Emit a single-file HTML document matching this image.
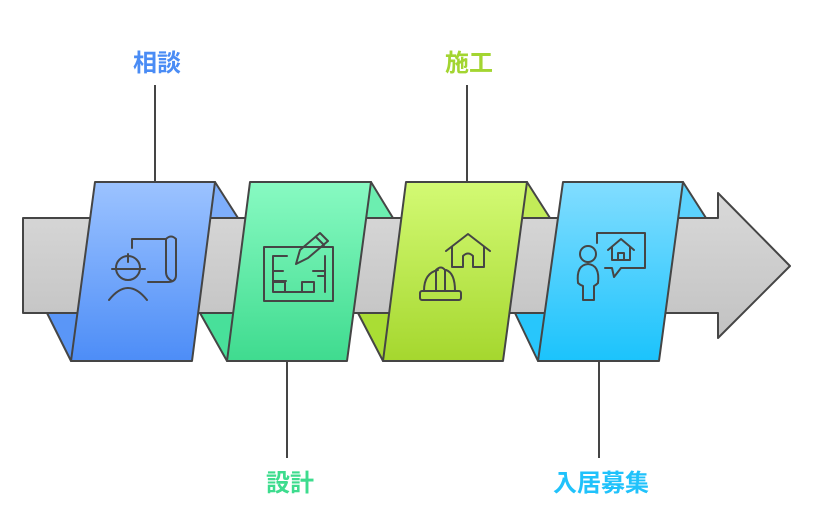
<!DOCTYPE html>
<html><head><meta charset="utf-8"><style>
html,body{margin:0;padding:0;background:#fff;width:827px;height:529px;overflow:hidden}
text{font-family:"Liberation Sans","Noto Sans CJK JP",sans-serif;font-weight:bold;font-size:24px}
</style></head><body>
<svg width="827" height="529" viewBox="0 0 827 529" xmlns="http://www.w3.org/2000/svg">
<defs>
<linearGradient id="gr" x1="0" y1="0" x2="0" y2="1"><stop offset="0" stop-color="#d9d9d9"/><stop offset="1" stop-color="#c2c2c2"/></linearGradient>
<linearGradient id="b" x1="0" y1="0" x2="0" y2="1"><stop offset="0" stop-color="#9cc3ff"/><stop offset="1" stop-color="#4d8df7"/></linearGradient>
<linearGradient id="g" x1="0" y1="0" x2="0" y2="1"><stop offset="0" stop-color="#88fac2"/><stop offset="1" stop-color="#3fdb8f"/></linearGradient>
<linearGradient id="l" x1="0" y1="0" x2="0" y2="1"><stop offset="0" stop-color="#d3fa74"/><stop offset="1" stop-color="#a5d72e"/></linearGradient>
<linearGradient id="c" x1="0" y1="0" x2="0" y2="1"><stop offset="0" stop-color="#82ddff"/><stop offset="1" stop-color="#1bc3fc"/></linearGradient>
</defs>
<g stroke="#454545" stroke-width="2" stroke-linejoin="round">
<polygon points="215,182 238,218 205,218" fill="#7eaefb"/>
<polygon points="47,313 80,313 71,361" fill="#5a96f7"/>
<polygon points="371,182 393,218 360,218" fill="#6ceeb0"/>
<polygon points="200,313 235,313 227,361" fill="#48e09a"/>
<polygon points="527,182 550,218 517,218" fill="#c2ec58"/>
<polygon points="358,313 392,313 383,361" fill="#aadd34"/>
<polygon points="683,182 706,218 673,218" fill="#5cd2fd"/>
<polygon points="515,313 548,313 538,361" fill="#28c6fc"/>
<polygon points="23,218 718,218 718,193 790,266 718,338 718,313 23,313" fill="url(#gr)"/>
<polygon points="95,182 215,182 192,361 71,361" fill="url(#b)"/>
<polygon points="250,182 371,182 347,361 227,361" fill="url(#g)"/>
<polygon points="406,182 527,182 503,361 383,361" fill="url(#l)"/>
<polygon points="563,182 683,182 659,361 538,361" fill="url(#c)"/>
<line x1="155" y1="85" x2="155" y2="182"/>
<line x1="467" y1="85" x2="467" y2="182"/>
<line x1="287" y1="361" x2="287" y2="458"/>
<line x1="599" y1="361" x2="599" y2="458"/>
</g>
<g fill="none" stroke="#454545" stroke-width="2" stroke-linecap="round" stroke-linejoin="round">
<circle cx="128" cy="268" r="12"/><line x1="112" y1="269" x2="145" y2="269"/><line x1="128" y1="254" x2="128" y2="262"/>
<path d="M109 300 Q128 276 147 300"/>
<path d="M132 248 V239 H166 M166 239 Q171 234 176 239 V275 Q176 282 168 282 H148 M166 239 V272 Q166 278 172 281"/>
<rect x="264" y="247" width="69" height="54"/>
<path d="M273 256 V292 H314 V282 H302 V292 M273 256 H287 M273 271 H283 M273 281 H286 M285 292 V282 H273 M325 256 V292 M313 271 H325 M318 276 H325"/>
<path d="M296 264 L300 250 L320 233 L328 241 L308 258 Z M316 237 L324 245"/>
<path d="M446 251 L468 234 L490 251 M452 247 V267 H463 V256 Q468 251 473 256 V267 H484 V247"/>
<rect x="420" y="291" width="41" height="9" rx="2"/>
<path d="M424 291 Q424 273 438 270 M455 291 Q455 273 446 270 M436 291 V270 Q441 265 445 270 V291"/>
<circle cx="588" cy="254" r="8"/>
<path d="M578 283 Q576 265 588 264 Q600 265 598 283 Q596 285 594 286 V300 H583 V286 Q580 285 578 283 Z"/>
<path d="M597 243 V233 H645 V268 H621 L614 277 L612 268 H605"/>
<path d="M608 250 L621 239 L634 250 M612 247 V260 H630 V247 M618 260 V253 H624 V260"/>
</g>
<text x="157" y="71" text-anchor="middle" fill="#4a8cf5">相談</text>
<text x="469" y="71" text-anchor="middle" fill="#a3d531">施工</text>
<text x="290" y="491" text-anchor="middle" fill="#3ddc8e">設計</text>
<text x="601" y="491" text-anchor="middle" fill="#20c2fb">入居募集</text>
</svg>
</body></html>
